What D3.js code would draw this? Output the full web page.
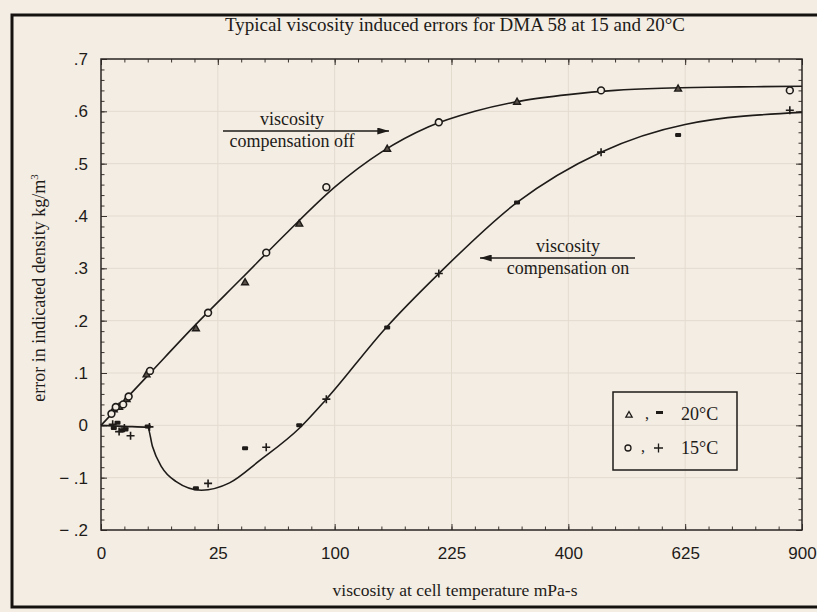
<!DOCTYPE html>
<html>
<head>
<meta charset="utf-8">
<script src="https://cdn.jsdelivr.net/npm/d3@7"></script>
<style>
    body { margin: 0; background: #f3ede4; }
    svg { display: block; font-family: "Liberation Serif", "DejaVu Serif", serif; }
</style>
</head>
<body>
<svg id="chart" width="817" height="612"></svg>
<script>

// Axis ticks
const xTicks = [0, 25, 100, 225, 400, 625, 900];
const yTicks = [-0.2, -0.1, 0, 0.1, 0.2, 0.3, 0.4, 0.5, 0.6, 0.7];
const yTickLabels = ['\u2212 .2', '\u2212 .1', '0', '.1', '.2', '.3', '.4', '.5', '.6', '.7'];

// Fitted curve, viscosity compensation off
const offFitX = [0, 4, 16, 36, 64, 100, 144, 196, 256, 324, 400, 484, 576, 676, 784, 900];
const offFitY = [0, 0.095, 0.19, 0.28, 0.37, 0.455, 0.522, 0.57, 0.6, 0.62, 0.632, 0.64, 0.644, 0.646, 0.647, 0.648];

// Fitted curve, viscosity compensation on
const onFitX = [0, 1, 4, 4.84, 6.76, 10.24, 18.5, 30.25, 46.2, 72.25, 93, 149, 209, 317, 458, 625, 900];
const onFitY = [0, -0.002, -0.004, -0.04, -0.08, -0.107, -0.124, -0.11, -0.067, -0.005, 0.05, 0.187, 0.29, 0.426, 0.522, 0.575, 0.598];

// Measured points, compensation off
const tri20X = [0.3, 0.6, 1.2, 3.8, 16.5, 38, 72, 150, 317, 610];
const tri20Y = [0.03, 0.035, 0.05, 0.097, 0.185, 0.273, 0.385, 0.528, 0.618, 0.643];
const circ15X = [0.2, 0.4, 0.9, 1.4, 4.4, 21, 50, 93, 209, 458, 869];
const circ15Y = [0.022, 0.035, 0.04, 0.055, 0.104, 0.215, 0.33, 0.455, 0.579, 0.64, 0.64];

// Measured points, compensation on
const dash20X = [0.3, 0.5, 0.8, 1.1, 4.0, 16.5, 38, 72, 150, 317, 610];
const dash20Y = [-0.005, 0.005, -0.01, -0.008, -0.002, -0.12, -0.044, 0.0, 0.187, 0.426, 0.555];
const plus15X = [0.25, 0.6, 1.0, 1.6, 4.3, 21, 50, 93, 209, 458, 869];
const plus15Y = [0.002, -0.012, -0.005, -0.02, -0.003, -0.111, -0.042, 0.05, 0.29, 0.522, 0.602];

const INK = '#1e1b18';
const PAPER = '#f3ede4';
const GRID = '#e4dbcf';

const svg = d3.select('#chart');

// Page frame
svg.append('path')
    .attr('d', 'M830,15 H12 V607 H830')
    .attr('fill', 'none')
    .attr('stroke', '#151210')
    .attr('stroke-width', 3);

svg.append('text')
    .attr('x', 455).attr('y', 31)
    .attr('text-anchor', 'middle')
    .attr('font-size', 19)
    .attr('fill', INK)
    .text('Typical viscosity induced errors for DMA 58 at 15 and 20\u00B0C');

// Scales
const x = d3.scaleSqrt().domain([0, 900]).range([101, 802]);
const y = d3.scaleLinear().domain([-0.2, 0.7]).range([530, 59]);

const minorX = d3.range(0, 31).map((s) => s * s);
const minorY = d3.range(-10, 36).map((i) => i / 50);

// Grid
const grid = svg.append('g').attr('stroke', GRID).attr('stroke-width', 1);
grid.selectAll('.gx').data(xTicks.slice(1, -1)).enter().append('line')
    .attr('x1', (d) => x(d)).attr('x2', (d) => x(d))
    .attr('y1', y(0.7)).attr('y2', y(-0.2));
grid.selectAll('.gy').data(yTicks.slice(1, -1)).enter().append('line')
    .attr('x1', x(0)).attr('x2', x(900))
    .attr('y1', (d) => y(d)).attr('y2', (d) => y(d));

// Axes
function styleAxis(g) {
    g.select('.domain').remove();
    g.selectAll('line').attr('stroke', '#3a3430').attr('stroke-width', 1);
    g.selectAll('text').attr('fill', INK).attr('font-size', 17).attr('font-family', null);
}

svg.append('g').attr('transform', `translate(${x(0)},0)`)
    .call(d3.axisLeft(y).tickValues(yTicks).tickSize(-6).tickPadding(13)
        .tickFormat((d, i) => yTickLabels[i]))
    .call(styleAxis);
svg.append('g').attr('transform', `translate(${x(0)},0)`)
    .call(d3.axisLeft(y).tickValues(minorY).tickSize(-3.5).tickFormat(''))
    .call(styleAxis);
svg.append('g').attr('transform', `translate(${x(900)},0)`)
    .call(d3.axisRight(y).tickValues(yTicks).tickSize(-6).tickFormat(''))
    .call(styleAxis);
svg.append('g').attr('transform', `translate(${x(900)},0)`)
    .call(d3.axisRight(y).tickValues(minorY).tickSize(-3.5).tickFormat(''))
    .call(styleAxis);

svg.append('g').attr('transform', `translate(0,${y(-0.2)})`)
    .call(d3.axisBottom(x).tickValues(xTicks).tickSize(-6).tickPadding(17)
        .tickFormat(d3.format('d')))
    .call(styleAxis);
svg.append('g').attr('transform', `translate(0,${y(-0.2)})`)
    .call(d3.axisBottom(x).tickValues(minorX).tickSize(-3.5).tickFormat(''))
    .call(styleAxis);
svg.append('g').attr('transform', `translate(0,${y(0.7)})`)
    .call(d3.axisTop(x).tickValues(xTicks).tickSize(-6).tickFormat(''))
    .call(styleAxis);
svg.append('g').attr('transform', `translate(0,${y(0.7)})`)
    .call(d3.axisTop(x).tickValues(minorX).tickSize(-3.5).tickFormat(''))
    .call(styleAxis);

// Plot frame
svg.append('rect')
    .attr('x', x(0)).attr('y', y(0.7))
    .attr('width', x(900) - x(0)).attr('height', y(-0.2) - y(0.7))
    .attr('fill', 'none').attr('stroke', '#2a2522').attr('stroke-width', 1.5);

// Axis titles
svg.append('text')
    .attr('x', 455).attr('y', 596)
    .attr('text-anchor', 'middle').attr('font-size', 17.5).attr('fill', INK)
    .text('viscosity at cell temperature mPa-s');

const yl = svg.append('text')
    .attr('transform', 'translate(45,288) rotate(-90)')
    .attr('text-anchor', 'middle').attr('font-size', 18).attr('fill', INK);
yl.append('tspan').text('error in indicated density kg/m');
yl.append('tspan').attr('font-size', 11).attr('dy', -7).text('3');

// Fitted curves
const line = d3.line()
    .x((d) => x(d[0]))
    .y((d) => y(d[1]))
    .curve(d3.curveMonotoneX);

svg.append('path')
    .datum(d3.zip(offFitX, offFitY))
    .attr('d', line)
    .attr('fill', 'none').attr('stroke', INK).attr('stroke-width', 1.6);
svg.append('path')
    .datum(d3.zip(onFitX, onFitY))
    .attr('d', line)
    .attr('fill', 'none').attr('stroke', INK).attr('stroke-width', 1.6);

// Markers
const markers = svg.append('g');

function triPath(cx, cy, s) {
    return `M${cx},${cy - s} L${cx + s * 0.9},${cy + s * 0.6} L${cx - s * 0.9},${cy + s * 0.6} Z`;
}

markers.selectAll('.tri').data(d3.zip(tri20X, tri20Y)).enter().append('path')
    .attr('d', (d) => triPath(x(d[0]), y(d[1]), 3.8))
    .attr('fill', '#5a524a').attr('stroke', INK).attr('stroke-width', 1.4);

markers.selectAll('.circ').data(d3.zip(circ15X, circ15Y)).enter().append('circle')
    .attr('cx', (d) => x(d[0])).attr('cy', (d) => y(d[1])).attr('r', 3.4)
    .attr('fill', PAPER).attr('stroke', INK).attr('stroke-width', 1.6);

markers.selectAll('.dash').data(d3.zip(dash20X, dash20Y)).enter().append('rect')
    .attr('x', (d) => x(d[0]) - 3).attr('y', (d) => y(d[1]) - 2)
    .attr('width', 6).attr('height', 4).attr('rx', 1)
    .attr('fill', INK);

markers.selectAll('.plus').data(d3.zip(plus15X, plus15Y)).enter().append('path')
    .attr('d', (d) => `M${x(d[0]) - 4},${y(d[1])} h8 M${x(d[0])},${y(d[1]) - 4} v8`)
    .attr('stroke', INK).attr('stroke-width', 1.6);

// Annotations
const defs = svg.append('defs');
defs.append('marker')
    .attr('id', 'head').attr('viewBox', '0 0 10 6')
    .attr('refX', 10).attr('refY', 3)
    .attr('markerWidth', 13).attr('markerHeight', 7)
    .attr('markerUnits', 'userSpaceOnUse')
    .attr('orient', 'auto')
    .append('path').attr('d', 'M0,0 L10,3 L0,6 Z').attr('fill', INK);

function note(x1, x2, ly, cx, lines) {
    svg.append('line')
        .attr('x1', x1).attr('x2', x2).attr('y1', ly).attr('y2', ly)
        .attr('stroke', INK).attr('stroke-width', 1.5)
        .attr('marker-end', 'url(#head)');
    svg.append('text').attr('x', cx).attr('y', ly - 6)
        .attr('text-anchor', 'middle').attr('font-size', 18).attr('fill', INK)
        .text(lines[0]);
    svg.append('text').attr('x', cx).attr('y', ly + 16)
        .attr('text-anchor', 'middle').attr('font-size', 18).attr('fill', INK)
        .text(lines[1]);
}
note(223, 389, 131, 292, ['viscosity', 'compensation off']);
note(635, 480, 258, 568, ['viscosity', 'compensation on']);

// Legend
const legend = svg.append('g');
legend.append('rect')
    .attr('x', 613).attr('y', 392).attr('width', 124).attr('height', 78)
    .attr('fill', 'none').attr('stroke', INK).attr('stroke-width', 1.5);

legend.append('path').attr('d', triPath(629, 415, 3.5))
    .attr('fill', 'none').attr('stroke', INK).attr('stroke-width', 1.3);
legend.append('text').attr('x', 645).attr('y', 419).attr('font-size', 16).attr('fill', INK).text(',');
legend.append('rect').attr('x', 656).attr('y', 411).attr('width', 7).attr('height', 3).attr('fill', INK);
legend.append('text').attr('x', 681).attr('y', 420).attr('font-size', 18).attr('fill', INK).text('20\u00B0C');

legend.append('circle').attr('cx', 628).attr('cy', 448).attr('r', 3)
    .attr('fill', 'none').attr('stroke', INK).attr('stroke-width', 1.3);
legend.append('text').attr('x', 641).attr('y', 452).attr('font-size', 16).attr('fill', INK).text(',');
legend.append('path').attr('d', 'M654,448 h9 M658.5,443.5 v9').attr('stroke', INK).attr('stroke-width', 1.3);
legend.append('text').attr('x', 681).attr('y', 454).attr('font-size', 18).attr('fill', INK).text('15\u00B0C');

</script>
</body>
</html>
